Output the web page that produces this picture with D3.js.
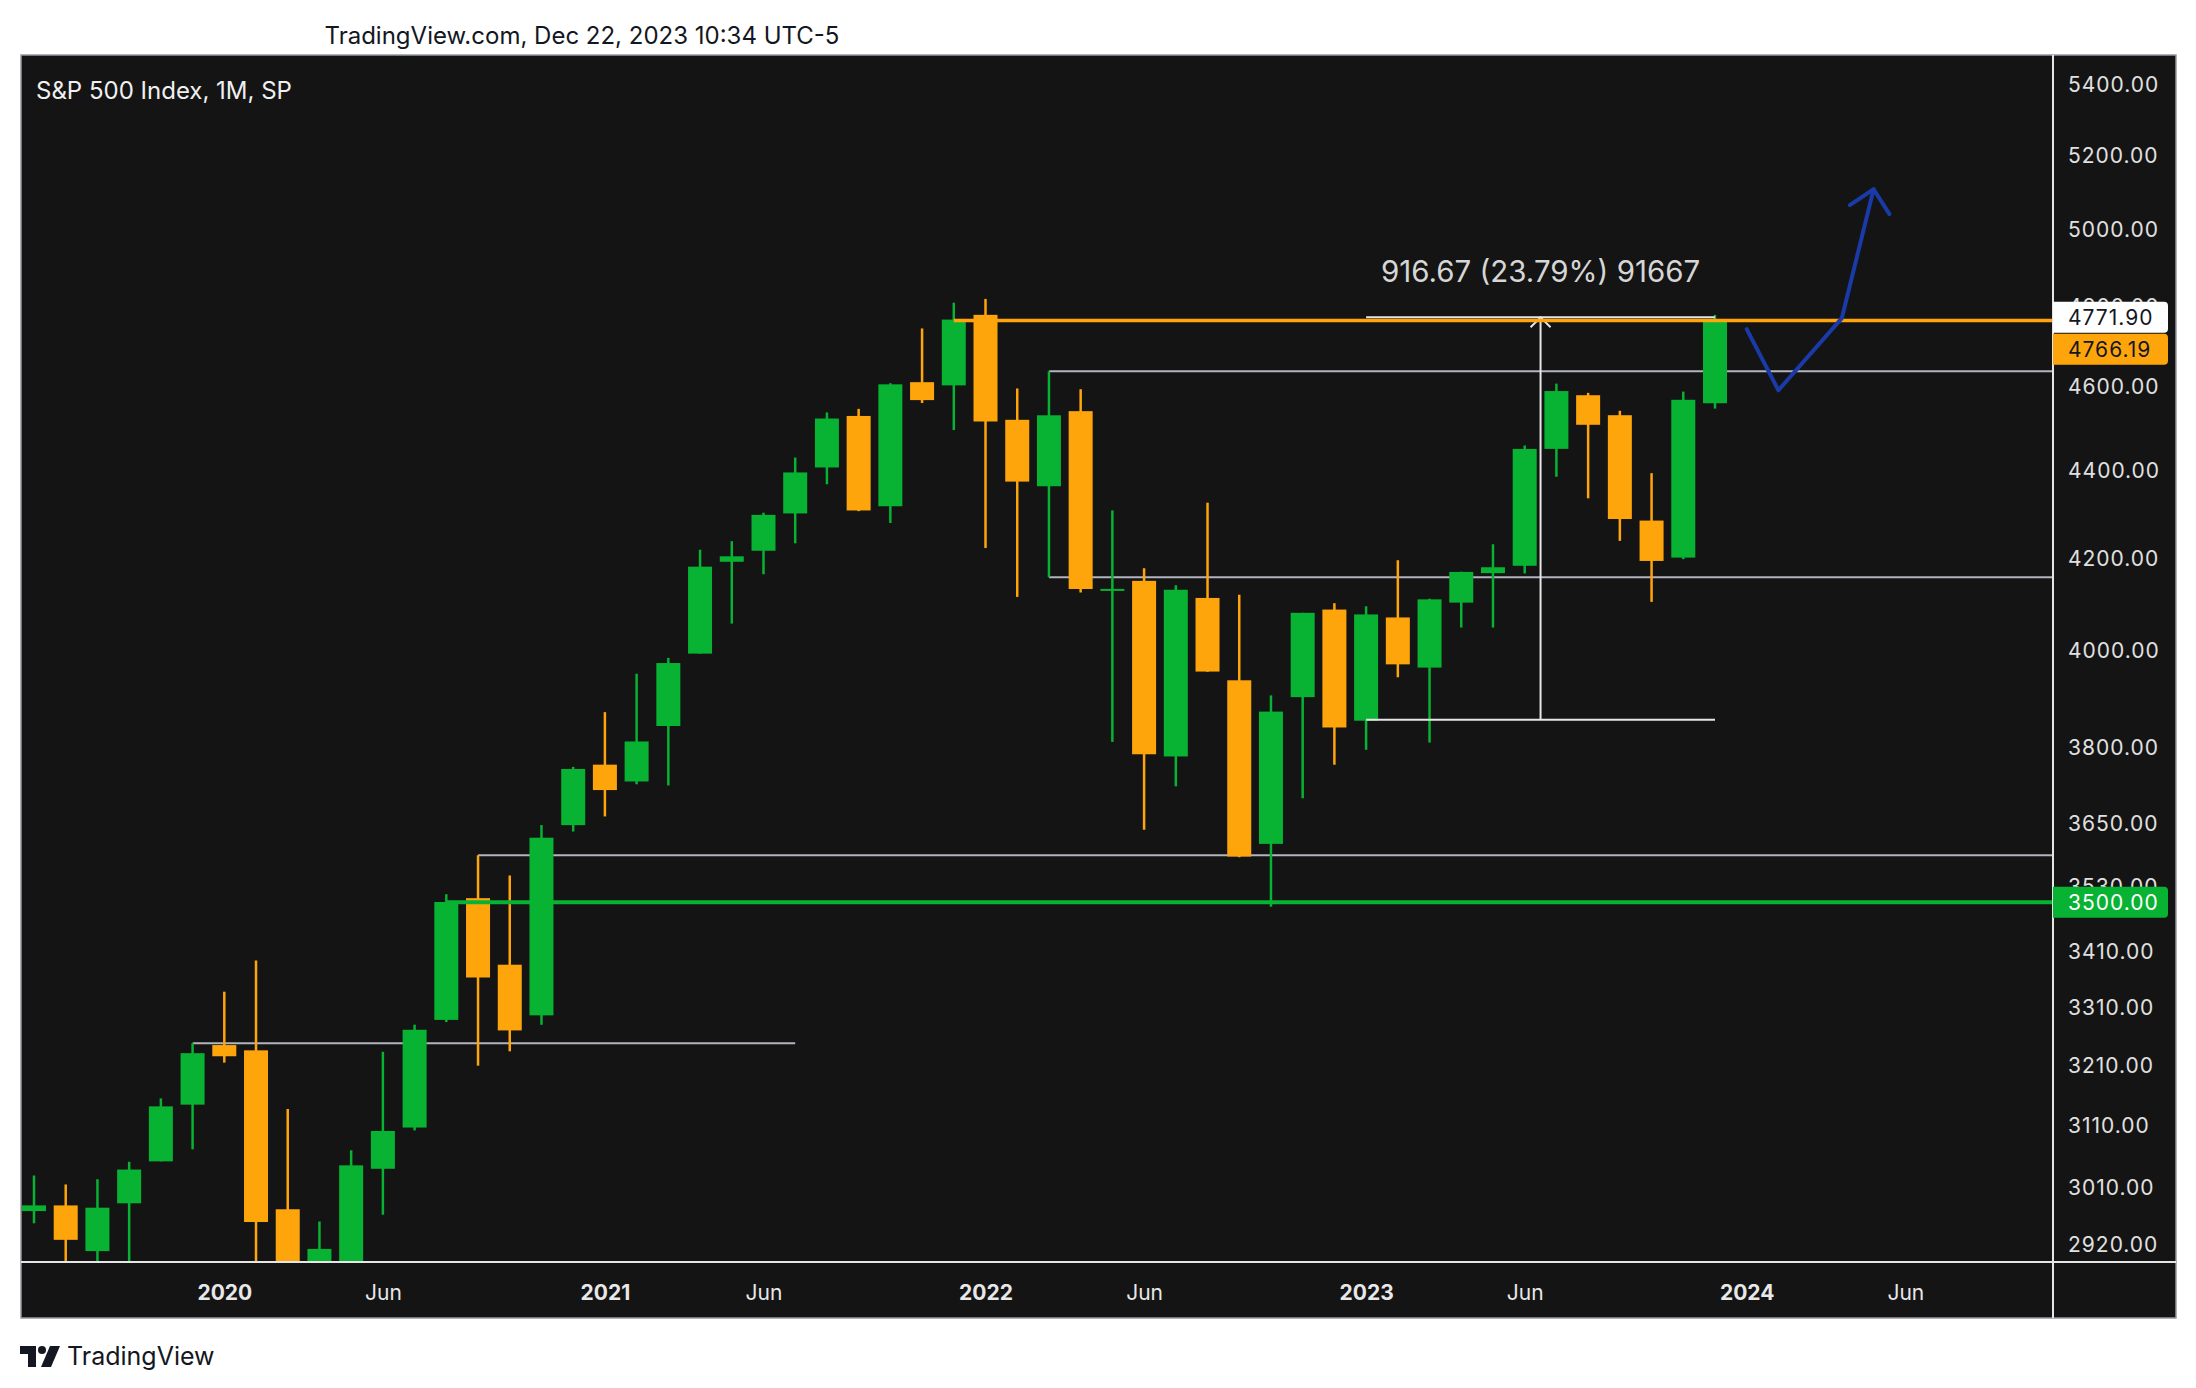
<!DOCTYPE html>
<html>
<head>
<meta charset="utf-8">
<script src="https://cdn.jsdelivr.net/npm/d3@7"></script>
<style>
  body { margin: 0; background: #fff; }
  svg { display: block; }
</style>
</head>
<body>
<svg id="chart"></svg>
<script>
// monthly S&P 500 candles, Jul 2019 .. Dec 2023
let months = ["2019-07","2019-08","2019-09","2019-10","2019-11","2019-12",
  "2020-01","2020-02","2020-03","2020-04","2020-05","2020-06","2020-07","2020-08","2020-09","2020-10","2020-11","2020-12",
  "2021-01","2021-02","2021-03","2021-04","2021-05","2021-06","2021-07","2021-08","2021-09","2021-10","2021-11","2021-12",
  "2022-01","2022-02","2022-03","2022-04","2022-05","2022-06","2022-07","2022-08","2022-09","2022-10","2022-11","2022-12",
  "2023-01","2023-02","2023-03","2023-04","2023-05","2023-06","2023-07","2023-08","2023-09","2023-10","2023-11","2023-12"]
let opens = [2971.41,2980.32,2909.01,2983.69,3050.72,3143.85,
  3244.67,3235.66,2974.28,2498.08,2869.09,3038.78,3105.92,3288.26,3507.44,3385.87,3296.20,3645.87,
  3764.61,3731.17,3842.51,3992.78,4191.98,4216.52,4300.73,4406.86,4528.80,4317.16,4610.62,4602.82,
  4778.14,4519.57,4363.14,4540.32,4130.61,4149.78,3781.00,4112.38,3936.73,3609.78,3901.79,4087.14,
  3853.29,4070.07,3963.34,4102.20,4166.79,4183.03,4450.48,4578.83,4530.60,4284.52,4201.27,4559.43]
let highs = [3027.98,3013.59,3021.99,3050.10,3154.26,3247.93,
  3337.77,3393.52,3136.72,2954.86,3068.67,3233.13,3279.99,3514.77,3588.11,3549.85,3645.99,3760.20,
  3870.90,3950.43,3983.87,4218.78,4238.04,4302.43,4429.97,4537.36,4545.85,4608.08,4743.83,4808.93,
  4818.62,4595.31,4637.30,4593.45,4307.66,4177.51,4140.15,4325.28,4119.28,3905.42,4080.11,4100.96,
  4094.21,4195.44,4110.75,4170.06,4231.10,4458.48,4607.07,4584.62,4541.25,4393.57,4587.64,4778.01]
let lows = [2952.22,2822.12,2891.85,2855.94,3050.72,3070.33,
  3214.64,2855.84,2191.86,2447.49,2766.64,2965.66,3101.17,3284.53,3209.45,3233.94,3279.74,3633.40,
  3662.71,3725.62,3723.34,3992.78,4056.88,4164.40,4233.13,4367.73,4305.91,4278.94,4560.00,4495.12,
  4222.62,4114.65,4157.87,4124.28,3810.32,3636.87,3721.56,3954.53,3584.13,3491.58,3698.15,3764.49,
  3794.33,3943.08,3808.86,4048.28,4048.28,4166.15,4385.05,4335.31,4238.63,4103.78,4197.74,4546.50]
let closes = [2980.38,2926.46,2976.74,3037.56,3140.98,3230.78,
  3225.52,2954.22,2584.59,2912.43,3044.31,3100.29,3271.12,3500.31,3363.00,3269.96,3621.63,3756.07,
  3714.24,3811.15,3972.89,4181.17,4204.11,4297.50,4395.26,4522.68,4307.54,4605.38,4567.00,4766.18,
  4515.55,4373.94,4530.41,4131.93,4132.15,3785.38,4130.29,3955.00,3585.62,3871.98,4080.11,3839.50,
  4076.60,3970.15,4109.31,4169.48,4179.83,4450.38,4588.96,4507.66,4288.05,4193.80,4567.80,4766.19]

let priceTicks = [5400,5200,5000,4800,4600,4400,4200,4000,3800,3650,3530,3410,3310,3210,3110,3010,2920]
let timeTickMonths = ["2020-01","2020-06","2021-01","2021-06","2022-01","2022-06","2023-01","2023-06","2024-01","2024-06"]
let timeTickLabels = ["2020","Jun","2021","Jun","2022","Jun","2023","Jun","2024","Jun"]

// drawn rays (gray)
let rayPrices = [3247.93, 3588.11, 4637.30, 4157.87]
let rayStarts = ["2019-12", "2020-09", "2022-03", "2022-03"]
let rayEnds = ["2021-07", null, null, null]

// key levels
let resistancePrice = 4766.19
let resistanceStart = "2021-12"
let supportPrice = 3500
let supportStart = "2020-08"

// price range measurement
let measureFrom = "2023-01"
let measureTo = "2023-12"
let measureLow = 3855.23
let measureHigh = 4771.90
let measureText = "916.67 (23.79%) 91667"

// hand drawn projection
let projMonths = [48, 49, 51, 52]
let projPrices = [4742, 4591, 4770, 5107]
let arrowMonths = [51.25, 52, 52.5]
let arrowPrices = [5064, 5107, 5040]

let lastPrice = 4766.19
let rulerPrice = 4771.90

function monthIndex(s) {
    let p = s.split("-")
    return (+p[0] - 2020) * 12 + (+p[1] - 1)
}

let width = 2196
let height = 1388
let panelL = 21, panelT = 55, panelR = 2176, panelB = 1318
let plotRight = 2053, plotBottom = 1262

let up = "#08b232"
let down = "#ffa50c"
let font = "Inter, 'Noto Sans', sans-serif"

let svg = d3.select("#chart").attr("width", width).attr("height", height)

let X = d3.scaleLinear().domain([-6, 47]).range([34, 1715])
let Y = d3.scaleLog().domain([2920, 5400]).range([1244, 84])

svg.append("rect").attr("width", width).attr("height", height).attr("fill", "#ffffff")

svg.append("text")
   .attr("x", 582).attr("y", 35)
   .attr("dominant-baseline", "central")
   .attr("text-anchor", "middle")
   .style("font-family", font).style("font-size", "24px")
   .attr("fill", "#131722")
   .text("TradingView.com, Dec 22, 2023 10:34 UTC-5")

svg.append("rect")
   .attr("x", panelL).attr("y", panelT)
   .attr("width", panelR - panelL).attr("height", panelB - panelT)
   .attr("fill", "#141414")
   .attr("stroke", "#9598a1").attr("stroke-width", 1.5)

svg.append("defs").append("clipPath").attr("id", "plot-clip")
   .append("rect")
   .attr("x", panelL + 1).attr("y", panelT + 1)
   .attr("width", plotRight - panelL - 1).attr("height", plotBottom - panelT - 1)

let plot = svg.append("g").attr("clip-path", "url(#plot-clip)")

svg.append("text")
   .attr("x", 36).attr("y", 90)
   .attr("dominant-baseline", "central")
   .style("font-family", font).style("font-size", "24px")
   .attr("fill", "#f0f0f0")
   .text("S&P 500 Index, 1M, SP")

// gray rays
rayPrices.forEach((p, i) => {
    let x1 = X(monthIndex(rayStarts[i]))
    let x2 = rayEnds[i] ? X(monthIndex(rayEnds[i])) : plotRight
    plot.append("line")
        .attr("x1", x1).attr("x2", x2)
        .attr("y1", Y(p)).attr("y2", Y(p))
        .attr("stroke", "#b2b5be").attr("stroke-width", 2)
})

// candles
let idx = months.map(monthIndex)
let candles = plot.append("g")
candles.selectAll("line.wick")
   .data(idx)
   .enter()
   .append("line")
   .attr("class", "wick")
   .attr("x1", (d) => X(d)).attr("x2", (d) => X(d))
   .attr("y1", (d, i) => Y(highs[i]))
   .attr("y2", (d, i) => Y(lows[i]))
   .attr("stroke", (d, i) => closes[i] >= opens[i] ? up : down)
   .attr("stroke-width", 2.5)

candles.selectAll("rect.body")
   .data(idx)
   .enter()
   .append("rect")
   .attr("class", "body")
   .attr("x", (d) => X(d) - 12)
   .attr("width", 24)
   .attr("y", (d, i) => Y(Math.max(opens[i], closes[i])))
   .attr("height", (d, i) => Math.max(2, Math.abs(Y(opens[i]) - Y(closes[i]))))
   .attr("fill", (d, i) => closes[i] >= opens[i] ? up : down)

// support / resistance
plot.append("line")
    .attr("x1", X(monthIndex(supportStart))).attr("x2", plotRight)
    .attr("y1", Y(supportPrice)).attr("y2", Y(supportPrice))
    .attr("stroke", up).attr("stroke-width", 4)

// measurement
let mx1 = X(monthIndex(measureFrom))
let mx2 = X(monthIndex(measureTo))
let mxc = (mx1 + mx2) / 2
let measure = plot.append("g").attr("stroke", "#e6e6e6").attr("stroke-width", 2).attr("fill", "none")
measure.append("line").attr("x1", mx1).attr("x2", mx2).attr("y1", Y(measureHigh)).attr("y2", Y(measureHigh))
measure.append("line").attr("x1", mx1).attr("x2", mx2).attr("y1", Y(measureLow)).attr("y2", Y(measureLow))
measure.append("line").attr("x1", mxc).attr("x2", mxc).attr("y1", Y(measureHigh)).attr("y2", Y(measureLow))
measure.append("path")
   .attr("d", `M${mxc - 10},${Y(measureHigh) + 10} L${mxc},${Y(measureHigh)} L${mxc + 10},${Y(measureHigh) + 10}`)

plot.append("line")
    .attr("x1", X(monthIndex(resistanceStart))).attr("x2", plotRight)
    .attr("y1", Y(resistancePrice) + 1).attr("y2", Y(resistancePrice) + 1)
    .attr("stroke", down).attr("stroke-width", 3.5)

plot.append("text")
    .attr("x", mxc).attr("y", 271)
    .attr("dominant-baseline", "central")
    .attr("text-anchor", "middle")
    .style("font-family", font).style("font-size", "29.5px")
    .attr("fill", "#d6d6d6")
    .text(measureText)

// projection arrow
let projLine = d3.line().x((d) => X(d[0])).y((d) => Y(d[1]))
let projPts = projMonths.map((m, i) => [m, projPrices[i]])
let arrowPts = arrowMonths.map((m, i) => [m, arrowPrices[i]])
plot.append("path").attr("d", projLine(projPts))
    .attr("fill", "none").attr("stroke", "#1a3aa8").attr("stroke-width", 4)
    .attr("stroke-linejoin", "round").attr("stroke-linecap", "round")
plot.append("path").attr("d", projLine(arrowPts))
    .attr("fill", "none").attr("stroke", "#1a3aa8").attr("stroke-width", 4)
    .attr("stroke-linejoin", "round").attr("stroke-linecap", "round")

// price axis
let yAxis = d3.axisRight(Y).tickValues(priceTicks).tickFormat(d3.format(".2f")).tickSize(0).tickPadding(15)
let yg = svg.append("g").attr("transform", `translate(${plotRight},0)`).call(yAxis)
yg.select(".domain").remove()
yg.selectAll("text")
  .attr("fill", "#e0e0e0")
  .attr("dy", "0.35em")
  .style("font-family", font).style("font-size", "21px").style("letter-spacing", "1px")

// time axis
let xAxis = d3.axisBottom(X).tickValues(timeTickMonths.map(monthIndex))
              .tickFormat((d, i) => timeTickLabels[i]).tickSize(0).tickPadding(0)
let xg = svg.append("g").attr("transform", `translate(0,${plotBottom})`).call(xAxis)
xg.select(".domain").remove()
xg.selectAll("text")
  .attr("fill", "#e8e8e8")
  .attr("y", 31).attr("dy", "0.35em")
  .style("font-family", font).style("font-size", "21px")
  .style("font-weight", (d, i) => timeTickLabels[i] === "Jun" ? 400 : 700)

// separators
svg.append("line").attr("x1", plotRight).attr("x2", plotRight).attr("y1", panelT).attr("y2", panelB)
   .attr("stroke", "#e6e6e6").attr("stroke-width", 2)
svg.append("line").attr("x1", panelL).attr("x2", panelR).attr("y1", plotBottom).attr("y2", plotBottom)
   .attr("stroke", "#e6e6e6").attr("stroke-width", 2)

// price labels on the scale (drawn over the ticks they hide, as in the original)
function priceTag(cy, text, bg, fg) {
    let g = svg.append("g")
    g.append("path")
     .attr("d", `M${plotRight},${cy - 15.5} H2164 Q2168,${cy - 15.5} 2168,${cy - 11.5} V${cy + 11.5} Q2168,${cy + 15.5} 2164,${cy + 15.5} H${plotRight} Z`)
     .attr("fill", bg)
    g.append("text")
     .attr("x", plotRight + 15).attr("y", cy).attr("dy", "0.35em")
     .style("font-family", font).style("font-size", "21px").style("letter-spacing", "1px")
     .attr("fill", fg)
     .text(text)
}
priceTag(Y(rulerPrice), d3.format(".2f")(rulerPrice), "#ffffff", "#131722")
priceTag(Y(rulerPrice) + 32, d3.format(".2f")(lastPrice), down, "#131722")
priceTag(Y(supportPrice), d3.format(".2f")(supportPrice), up, "#ffffff")

// logo
let logo = svg.append("g").attr("fill", "#131722")
logo.append("path").attr("d", "M20,1346 H36 V1367 H28 V1354 H20 Z")
logo.append("circle").attr("cx", 42).attr("cy", 1350).attr("r", 4)
logo.append("path").attr("d", "M50,1346 H60 L51,1367 H41 Z")
svg.append("text")
   .attr("x", 67).attr("y", 1356)
   .attr("dominant-baseline", "central")
   .style("font-family", font).style("font-size", "25px")
   .attr("fill", "#131722")
   .text("TradingView")
</script>
</body>
</html>
